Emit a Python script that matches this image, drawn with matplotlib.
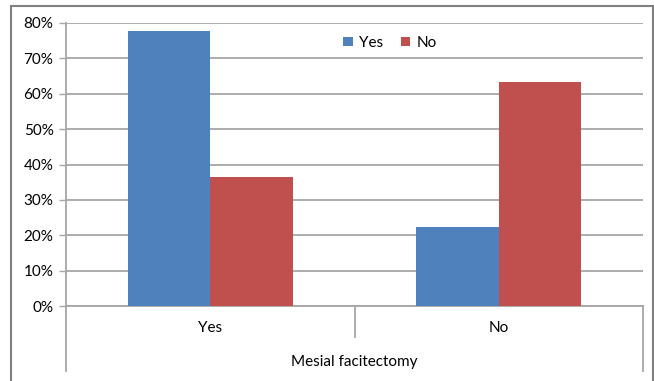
import numpy as np
from matplotlib import pyplot as plt
from matplotlib.patches import Rectangle

categories = ["Yes", "No"]
yes_vals = [77.8, 22.2]
no_vals = [36.6, 63.4]
series_names = ["Yes", "No"]
group_label = "Mesial facitectomy"
yticks = [0, 10, 20, 30, 40, 50, 60, 70, 80]

blue = "#4F81BD"
red = "#C0504D"
grey = "#A6A6A6"

plt.rcParams['font.family'] = ['Lato', 'DejaVu Sans']

fig = plt.figure(figsize=(6.54, 3.81), dpi=100)
ax = fig.add_axes([66/654, 1-306/381, 577/654, 283/381])

x = np.arange(len(categories))
w = 1/3.5
ax.bar(x - w/2, yes_vals, w, color=blue, label=series_names[0], zorder=3)
ax.bar(x + w/2, no_vals, w, color=red, label=series_names[1], zorder=3)

ax.set_xlim(-0.5, 1.5)
ax.set_ylim(0, 80)
ax.set_yticks(yticks)
ax.set_yticklabels([f"{t}%" for t in yticks], fontsize=11)
ax.yaxis.grid(True, color=grey, linewidth=1.3, zorder=0)
ax.set_xticks([])
ax.tick_params(axis='y', length=5, color=grey, width=1, pad=4)

for s in ["top", "right"]:
    ax.spines[s].set_visible(False)
for s in ["left", "bottom"]:
    ax.spines[s].set_color(grey)
    ax.spines[s].set_linewidth(1.3)

# category labels and divider lines under the axis
trans = ax.get_xaxis_transform()
for xi, c in zip(x, categories):
    ax.text(xi, -0.078, c, transform=trans, ha="center", va="center", fontsize=11)
ax.plot([0.5, 0.5], [0, -0.11], transform=trans, color=grey, lw=1.3, clip_on=False)
ax.plot([-0.5, -0.5], [0, -0.23], transform=trans, color=grey, lw=1.3, clip_on=False)
ax.plot([1.5, 1.5], [0, -0.23], transform=trans, color=grey, lw=1.3, clip_on=False)
ax.text(0.5, -0.198, group_label, transform=trans, ha="center", va="center", fontsize=11)

ax.legend(loc="center", bbox_to_anchor=((390-66)/577, (306-43)/283), ncol=2,
          frameon=False, fontsize=11, handlelength=0.6, handleheight=0.6,
          handletextpad=0.4, columnspacing=1.2)

# outer chart border
fig.patches.append(Rectangle((11/654, -0.02), 642/654, 1.02 - 6/381,
                             transform=fig.transFigure, fill=False,
                             edgecolor="#808080", linewidth=1.5))

fig.savefig("out.png", dpi=100)
